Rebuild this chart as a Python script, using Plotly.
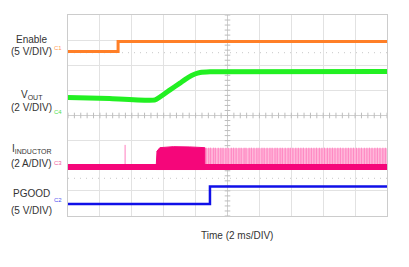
import plotly.graph_objects as go

# ---- data (screen divisions: x 0..10, y 0..8) ----
enable_x = [0, 1.57, 1.57, 10]
enable_y = [6.55, 6.55, 6.95, 6.95]

vout_x = [0, 1.3, 2.73, 3.20, 3.51, 3.76, 3.98, 4.14, 4.45, 10]
vout_y = [4.72, 4.68, 4.62, 5.02, 5.29, 5.51, 5.65, 5.71, 5.74, 5.75]

ind_base_x = [0, 10]
ind_base_y = [1.95, 1.95]
ind_spike_x = [1.79, 1.79]
ind_spike_y = [1.95, 2.83]
burst_x = [2.76, 2.79, 2.88, 3.3, 3.8, 4.29, 4.29, 2.76]
burst_y = [1.85, 2.58, 2.72, 2.76, 2.75, 2.72, 1.85, 1.85]
pulse_band_x = [4.29, 10, 10, 4.29]
pulse_band_y = [2.05, 2.05, 2.70, 2.70]
pulse_pos = [4.33, 4.41, 4.47, 4.56, 4.62, 4.71, 4.79, 4.86, 4.95, 5.02, 5.12, 5.19,
             5.27, 5.36, 5.43, 5.52, 5.58, 5.68, 5.75, 5.83, 5.92, 5.99, 6.08, 6.15,
             6.24, 6.33, 6.40, 6.49, 6.56, 6.65, 6.72, 6.81, 6.90, 6.97, 7.05, 7.14,
             7.22, 7.30, 7.38, 7.47, 7.55, 7.63, 7.71, 7.79, 7.88, 7.96, 8.04, 8.13,
             8.21, 8.29, 8.37, 8.46, 8.54, 8.62, 8.71, 8.79, 8.87, 8.95, 9.04, 9.12,
             9.20, 9.29, 9.37, 9.45, 9.53, 9.62, 9.70, 9.78, 9.87, 9.95]
pulse_top = 2.72

pgood_x = [0, 4.45, 4.45, 10]
pgood_y = [0.48, 0.48, 1.17, 1.17]

labels = [("Enable", 7.03), ("(5 V/DIV)", 6.53),
          ("V<sub>OUT</sub>", 4.82), ("(2 V/DIV)", 4.30),
          ("I<sub>INDUCTOR</sub>", 2.67), ("(2 A/DIV)", 2.10),
          ("PGOOD", 0.88), ("(5 V/DIV)", 0.20)]
markers = [("C1", 6.69, "#FF9A50"), ("C4", 4.14, "#50E050"),
           ("C3", 2.11, "#F060A0"), ("C2", 0.64, "#5050F0")]

ORANGE = "#FF7F27"
GREEN = "#22F022"
PINK = "#F5067A"
BLUE = "#1010E8"

fig = go.Figure()

# dotted reference lines
for yy in [6.5, 1.5]:
    fig.add_trace(go.Scatter(x=[0, 10], y=[yy, yy], mode="lines",
                             line=dict(color="#c8c8c8", width=1, dash="1px,5px"),
                             hoverinfo="skip", showlegend=False))
# center lines
fig.add_trace(go.Scatter(x=[0, 10], y=[4, 4], mode="lines",
                         line=dict(color="#cfcfcf", width=1), showlegend=False))
fig.add_trace(go.Scatter(x=[5, 5], y=[0, 8], mode="lines",
                         line=dict(color="#cfcfcf", width=1), showlegend=False))
tick_h = [i * 0.2 for i in range(51)]
tick_v = [i * 0.2 for i in range(41)]
fig.add_trace(go.Scatter(x=tick_h, y=[4] * len(tick_h), mode="markers",
                         marker=dict(symbol="line-ns", size=4, line=dict(color="#bdbdbd", width=1)),
                         showlegend=False))
fig.add_trace(go.Scatter(x=[5] * len(tick_v), y=tick_v, mode="markers",
                         marker=dict(symbol="line-ew", size=4, line=dict(color="#bdbdbd", width=1)),
                         showlegend=False))

# Enable
fig.add_trace(go.Scatter(x=enable_x, y=enable_y, mode="lines",
                         line=dict(color=ORANGE, width=3), showlegend=False))
# Vout
fig.add_trace(go.Scatter(x=vout_x, y=vout_y, mode="lines",
                         line=dict(color=GREEN, width=5, shape="spline", smoothing=0.4),
                         showlegend=False))
# Inductor pulse band
fig.add_trace(go.Scatter(x=pulse_band_x, y=pulse_band_y, mode="lines", fill="toself",
                         fillcolor="#FFB8DA", line=dict(width=0), showlegend=False))
px, py = [], []
for p in pulse_pos:
    px += [p, p, None]
    py += [1.95, pulse_top, None]
fig.add_trace(go.Scatter(x=px, y=py, mode="lines",
                         line=dict(color="#FF8AC4", width=1.2), showlegend=False))
# Inductor burst
fig.add_trace(go.Scatter(x=burst_x, y=burst_y, mode="lines", fill="toself",
                         fillcolor=PINK, line=dict(color=PINK, width=1), showlegend=False))
fig.add_trace(go.Scatter(x=ind_spike_x, y=ind_spike_y, mode="lines",
                         line=dict(color="#FF7FBF", width=1), showlegend=False))
fig.add_trace(go.Scatter(x=ind_base_x, y=ind_base_y, mode="lines",
                         line=dict(color=PINK, width=6), showlegend=False))
# PGOOD
fig.add_trace(go.Scatter(x=pgood_x, y=pgood_y, mode="lines",
                         line=dict(color=BLUE, width=2.5), showlegend=False))

# small scope markers
fig.add_trace(go.Scatter(x=[10.1], y=[5.03], mode="markers", cliponaxis=False,
                         marker=dict(symbol="triangle-left", size=6, color="#20E020"),
                         showlegend=False))
fig.add_trace(go.Scatter(x=[3.35], y=[-0.08], mode="markers", cliponaxis=False,
                         marker=dict(symbol="square", size=3, color="#20E020"),
                         showlegend=False))

for txt, yy in labels:
    fig.add_annotation(x=-0.113, xref="paper", y=yy, yref="y", text=txt,
                       showarrow=False, xanchor="center", yanchor="middle",
                       font=dict(family="Liberation Sans, Arial", size=10, color="#333333"))
for txt, yy, col in markers:
    fig.add_annotation(x=-0.012, xref="paper", y=yy, yref="y", text=txt,
                       showarrow=False, xanchor="right", yanchor="middle",
                       font=dict(family="Liberation Sans, Arial", size=6, color=col))
fig.add_annotation(x=0.53, xref="paper", y=-0.06, yref="paper", text="Time (2 ms/DIV)",
                   showarrow=False, xanchor="center", yanchor="top",
                   font=dict(family="Liberation Sans, Arial", size=10, color="#333333"))

fig.update_layout(
    width=409, height=267,
    margin=dict(l=68, r=22, t=15, b=51),
    paper_bgcolor="white", plot_bgcolor="white",
    showlegend=False,
    xaxis=dict(range=[0, 10], dtick=1, showgrid=True, gridcolor="#e2e2e2", gridwidth=1,
               showticklabels=False, ticks="", zeroline=False,
               showline=True, mirror=True, linecolor="#cccccc", linewidth=1, fixedrange=True),
    yaxis=dict(range=[0, 8], dtick=1, showgrid=True, gridcolor="#e2e2e2", gridwidth=1,
               showticklabels=False, ticks="", zeroline=False,
               showline=True, mirror=True, linecolor="#cccccc", linewidth=1, fixedrange=True),
)

fig.write_html("out.html", config={"displayModeBar": False})
